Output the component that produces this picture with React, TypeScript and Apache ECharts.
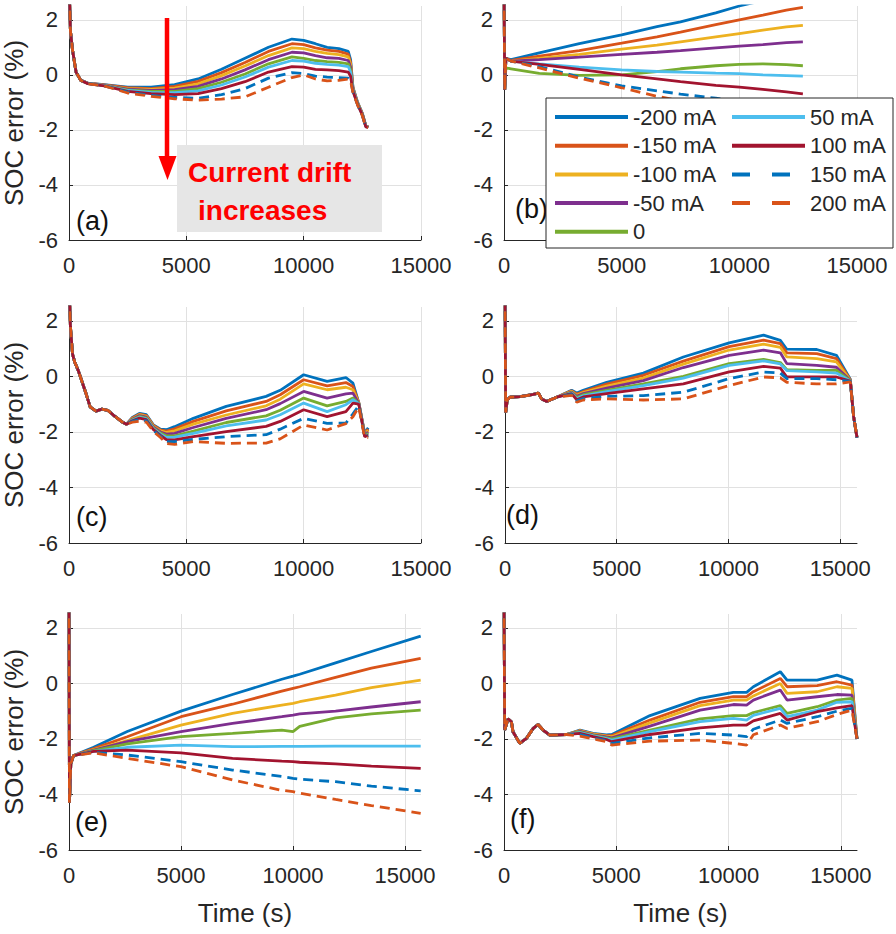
import React, { useEffect, useRef } from 'react';
import * as echarts from 'echarts';

const FONT = '"Liberation Sans", Arial, Helvetica, sans-serif';

const SERIES_NAMES = ['-200 mA', '-150 mA', '-100 mA', '-50 mA', '0', '50 mA', '100 mA', '150 mA', '200 mA'];
const SERIES_COLORS = ['#0072BD', '#D95319', '#EDB120', '#7E2F8E', '#77AC30', '#4DBEEE', '#A2142F', '#0072BD', '#D95319'];
const SERIES_DASHED = [false, false, false, false, false, false, false, true, true];

const PANEL_LABELS = ['(a)', '(b)', '(c)', '(d)', '(e)', '(f)'];
const X_MAX = [15000, 15000, 15000, 15750, 15714, 15714];
const Y_TICKS = [-6, -4, -2, 0, 2];
const X_TICKS = [0, 5000, 10000, 15000];

// ---------- Panel (a) ----------
const A_T = [0, 60, 150, 300, 500, 800, 1500, 2500, 3500, 4500, 5500, 6500, 7500, 8500, 9500, 10000, 10500, 11000, 11500, 11900, 12000, 12100, 12300, 12500, 12650, 12750];
const A_M200 = [3.5, 1.6, 0.9, 0.1, -0.2, -0.3, -0.36, -0.45, -0.45, -0.36, -0.15, 0.2, 0.6, 1.0, 1.3, 1.25, 1.13, 1.0, 0.95, 0.85, 0.55, -0.45, -1.0, -1.4, -1.85, -1.9];
const A_M150 = [3.5, 1.6, 0.9, 0.1, -0.2, -0.3, -0.37, -0.47, -0.5, -0.42, -0.24, 0.08, 0.45, 0.85, 1.13, 1.1, 0.98, 0.9, 0.85, 0.75, 0.45, -0.48, -1.02, -1.41, -1.86, -1.9];
const A_M100 = [3.5, 1.6, 0.9, 0.1, -0.2, -0.3, -0.38, -0.5, -0.53, -0.48, -0.33, -0.03, 0.32, 0.7, 0.98, 0.95, 0.85, 0.78, 0.73, 0.65, 0.38, -0.5, -1.03, -1.42, -1.86, -1.9];
const A_M50 = [3.5, 1.6, 0.9, 0.1, -0.2, -0.3, -0.38, -0.52, -0.57, -0.54, -0.42, -0.15, 0.18, 0.55, 0.82, 0.8, 0.7, 0.62, 0.6, 0.52, 0.28, -0.52, -1.05, -1.43, -1.87, -1.9];
const A_Z0 = [3.5, 1.6, 0.9, 0.1, -0.2, -0.31, -0.39, -0.55, -0.6, -0.6, -0.5, -0.27, 0.03, 0.4, 0.65, 0.6, 0.52, 0.48, 0.45, 0.4, 0.18, -0.55, -1.06, -1.44, -1.88, -1.9];
const A_P50 = [3.5, 1.6, 0.9, 0.1, -0.2, -0.31, -0.39, -0.57, -0.64, -0.65, -0.58, -0.37, -0.08, 0.28, 0.52, 0.5, 0.42, 0.38, 0.35, 0.3, 0.1, -0.57, -1.07, -1.45, -1.88, -1.91];
const A_P100 = [3.5, 1.6, 0.9, 0.1, -0.2, -0.32, -0.4, -0.6, -0.68, -0.72, -0.68, -0.5, -0.25, 0.1, 0.3, 0.28, 0.2, 0.18, 0.15, 0.1, -0.05, -0.6, -1.08, -1.46, -1.89, -1.91];
const A_P150 = [3.5, 1.6, 0.9, 0.1, -0.2, -0.32, -0.4, -0.63, -0.75, -0.82, -0.85, -0.72, -0.5, -0.12, 0.08, 0.05, -0.05, -0.08, -0.1, -0.12, -0.2, -0.62, -1.09, -1.47, -1.9, -1.92];
const A_P200 = [3.5, 1.6, 0.9, 0.1, -0.2, -0.33, -0.4, -0.66, -0.78, -0.87, -0.92, -0.88, -0.8, -0.45, -0.1, 0.0, -0.15, -0.22, -0.2, -0.15, -0.22, -0.64, -1.1, -1.48, -1.9, -1.92];

// ---------- Panel (b) ----------
const B_T = [0, 30, 80, 300, 1500, 3200, 5000, 6500, 7500, 9000, 10000, 11000, 12000, 12700];
const B_M200 = [3.5, -0.55, 0.6, 0.55, 0.8, 1.13, 1.45, 1.75, 1.92, 2.25, 2.5, 2.7, 2.9, 3.05];
const B_M150 = [3.5, -0.55, 0.6, 0.52, 0.68, 0.88, 1.15, 1.38, 1.55, 1.82, 2.0, 2.17, 2.35, 2.45];
const B_M100 = [3.5, -0.55, 0.6, 0.5, 0.6, 0.74, 0.93, 1.08, 1.2, 1.38, 1.5, 1.62, 1.74, 1.8];
const B_M50 = [3.5, -0.55, 0.6, 0.5, 0.55, 0.64, 0.74, 0.82, 0.88, 0.98, 1.04, 1.1, 1.17, 1.2];
const B_Z0 = [3.5, -0.55, 0.25, 0.22, 0.05, -0.02, 0.0, 0.12, 0.22, 0.33, 0.38, 0.4, 0.37, 0.33];
const B_P50 = [3.5, -0.55, 0.6, 0.5, 0.4, 0.28, 0.18, 0.12, 0.1, 0.06, 0.04, 0.0, -0.03, -0.05];
const B_P100 = [3.5, -0.55, 0.6, 0.5, 0.38, 0.2, 0.0, -0.15, -0.25, -0.38, -0.45, -0.53, -0.62, -0.69];
const B_P150 = [3.5, -0.55, 0.6, 0.5, 0.3, -0.08, -0.4, -0.58, -0.7, -0.85, -0.98, -1.1, -1.22, -1.3];
const B_P200 = [3.5, -0.55, 0.6, 0.5, 0.25, -0.12, -0.47, -0.78, -0.95, -1.2, -1.38, -1.55, -1.75, -1.88];

// ---------- Panel (c) ----------
const C_T = [0, 60, 150, 250, 400, 700, 900, 1150, 1400, 1650, 1900, 2250, 2450, 2700, 3000, 3300, 3600, 3900, 4150, 4500, 5300, 6700, 8400, 9000, 10000, 11000, 11800, 12100, 12350, 12600, 12750];
const C_M200 = [3.5, 1.8, 0.8, 0.5, 0.2, -0.55, -1.1, -1.25, -1.18, -1.22, -1.4, -1.63, -1.72, -1.48, -1.33, -1.38, -1.75, -1.9, -1.92, -1.81, -1.51, -1.08, -0.72, -0.5, 0.06, -0.18, -0.04, -0.24, -0.95, -2.05, -1.85];
const C_M150 = [3.5, 1.8, 0.8, 0.5, 0.2, -0.55, -1.1, -1.25, -1.18, -1.22, -1.4, -1.63, -1.72, -1.5, -1.36, -1.41, -1.77, -1.93, -1.97, -1.89, -1.62, -1.24, -0.9, -0.66, -0.12, -0.34, -0.22, -0.36, -0.95, -2.07, -1.9];
const C_M100 = [3.5, 1.8, 0.8, 0.5, 0.2, -0.55, -1.1, -1.25, -1.18, -1.22, -1.4, -1.63, -1.72, -1.52, -1.38, -1.44, -1.8, -1.96, -2.02, -1.96, -1.72, -1.39, -1.06, -0.82, -0.27, -0.48, -0.39, -0.48, -0.96, -2.09, -1.95];
const C_M50 = [3.5, 1.8, 0.8, 0.5, 0.2, -0.55, -1.1, -1.25, -1.18, -1.22, -1.4, -1.63, -1.72, -1.54, -1.41, -1.47, -1.83, -2.0, -2.08, -2.05, -1.84, -1.51, -1.2, -0.98, -0.54, -0.78, -0.63, -0.6, -0.97, -2.11, -2.0];
const C_Z0 = [3.5, 1.8, 0.8, 0.5, 0.2, -0.55, -1.1, -1.25, -1.18, -1.22, -1.4, -1.63, -1.72, -1.56, -1.44, -1.5, -1.86, -2.04, -2.14, -2.14, -1.97, -1.66, -1.42, -1.22, -0.78, -1.06, -0.9, -0.78, -0.98, -2.13, -2.05];
const C_P50 = [3.5, 1.8, 0.8, 0.5, 0.2, -0.55, -1.1, -1.25, -1.18, -1.22, -1.4, -1.63, -1.72, -1.58, -1.47, -1.53, -1.89, -2.08, -2.2, -2.19, -2.05, -1.78, -1.57, -1.38, -0.96, -1.27, -1.02, -0.84, -0.98, -2.15, -2.1];
const C_P100 = [3.5, 1.8, 0.8, 0.5, 0.2, -0.55, -1.1, -1.25, -1.18, -1.22, -1.4, -1.63, -1.72, -1.6, -1.5, -1.56, -1.92, -2.12, -2.28, -2.29, -2.17, -1.99, -1.8, -1.62, -1.2, -1.45, -1.27, -0.96, -1.0, -2.17, -2.12];
const C_P150 = [3.5, 1.8, 0.8, 0.5, 0.2, -0.55, -1.1, -1.25, -1.18, -1.22, -1.4, -1.63, -1.72, -1.62, -1.55, -1.6, -1.95, -2.16, -2.35, -2.35, -2.27, -2.17, -2.1, -1.9, -1.51, -1.69, -1.68, -1.35, -1.05, -2.18, -2.15];
const C_P200 = [3.5, 1.8, 0.8, 0.5, 0.2, -0.55, -1.1, -1.25, -1.18, -1.22, -1.4, -1.63, -1.72, -1.65, -1.62, -1.65, -1.98, -2.2, -2.42, -2.45, -2.35, -2.41, -2.4, -2.25, -1.75, -1.93, -1.7, -1.45, -1.1, -2.2, -2.2];

// ---------- Panel (d) ----------
const D_T = [0, 30, 100, 224, 670, 1270, 1490, 1640, 1870, 2310, 2980, 3210, 3500, 4550, 6190, 7980, 10030, 11570, 12320, 12610, 13950, 14830, 15450, 15600, 15750];
const D_M200 = [3.5, -1.3, -0.85, -0.75, -0.73, -0.65, -0.6, -0.81, -0.9, -0.75, -0.5, -0.6, -0.5, -0.21, 0.12, 0.7, 1.21, 1.49, 1.3, 0.98, 0.97, 0.76, -0.1, -1.45, -2.2];
const D_M150 = [3.5, -1.3, -0.85, -0.75, -0.73, -0.65, -0.6, -0.81, -0.9, -0.75, -0.52, -0.64, -0.55, -0.28, 0.04, 0.55, 1.07, 1.31, 1.18, 0.85, 0.82, 0.64, -0.12, -1.45, -2.2];
const D_M100 = [3.5, -1.3, -0.85, -0.75, -0.73, -0.65, -0.6, -0.81, -0.9, -0.75, -0.54, -0.68, -0.58, -0.35, -0.06, 0.44, 0.95, 1.16, 1.05, 0.7, 0.64, 0.52, -0.13, -1.45, -2.2];
const D_M50 = [3.5, -1.3, -0.85, -0.75, -0.73, -0.65, -0.6, -0.81, -0.9, -0.75, -0.56, -0.72, -0.62, -0.42, -0.15, 0.32, 0.76, 0.95, 0.85, 0.46, 0.4, 0.33, -0.14, -1.45, -2.2];
const D_Z0 = [3.5, -1.3, -0.85, -0.75, -0.73, -0.65, -0.6, -0.81, -0.9, -0.75, -0.58, -0.76, -0.66, -0.5, -0.27, 0.0, 0.46, 0.61, 0.5, 0.24, 0.22, 0.22, -0.15, -1.45, -2.2];
const D_P50 = [3.5, -1.3, -0.85, -0.75, -0.73, -0.65, -0.6, -0.81, -0.9, -0.75, -0.6, -0.8, -0.7, -0.55, -0.33, -0.06, 0.4, 0.56, 0.45, 0.21, 0.16, 0.12, -0.16, -1.45, -2.2];
const D_P100 = [3.5, -1.3, -0.85, -0.75, -0.73, -0.65, -0.6, -0.81, -0.9, -0.75, -0.62, -0.84, -0.74, -0.62, -0.45, -0.27, 0.16, 0.36, 0.3, -0.02, -0.02, -0.02, -0.17, -1.45, -2.2];
const D_P150 = [3.5, -1.3, -0.85, -0.75, -0.73, -0.65, -0.6, -0.81, -0.9, -0.75, -0.65, -0.88, -0.8, -0.72, -0.69, -0.57, -0.08, 0.16, 0.12, -0.08, -0.08, -0.12, -0.18, -1.45, -2.2];
const D_P200 = [3.5, -1.3, -0.85, -0.75, -0.73, -0.65, -0.6, -0.81, -0.9, -0.75, -0.68, -0.93, -0.85, -0.81, -0.85, -0.81, -0.33, -0.02, -0.05, -0.21, -0.27, -0.27, -0.2, -1.45, -2.2];

// ---------- Panel (e) ----------
const E_T = [0, 20, 80, 200, 1100, 2600, 5000, 7300, 9500, 10000, 10300, 11900, 13500, 15700];
const E_M200 = [3.5, -4.3, -2.9, -2.6, -2.3, -1.73, -1.0, -0.4, 0.15, 0.26, 0.33, 0.74, 1.15, 1.7];
const E_M150 = [3.5, -4.3, -2.9, -2.6, -2.35, -1.92, -1.2, -0.75, -0.28, -0.18, -0.12, 0.22, 0.55, 0.9];
const E_M100 = [3.5, -4.3, -2.9, -2.6, -2.38, -2.06, -1.5, -1.08, -0.78, -0.72, -0.66, -0.42, -0.15, 0.12];
const E_M50 = [3.5, -4.3, -2.9, -2.6, -2.4, -2.1, -1.74, -1.44, -1.2, -1.14, -1.1, -1.0, -0.85, -0.66];
const E_Z0 = [3.5, -4.3, -2.9, -2.6, -2.42, -2.18, -1.92, -1.8, -1.68, -1.74, -1.55, -1.24, -1.1, -0.96];
const E_P50 = [3.5, -4.3, -2.9, -2.6, -2.45, -2.3, -2.22, -2.28, -2.27, -2.27, -2.27, -2.26, -2.26, -2.26];
const E_P100 = [3.5, -4.3, -2.9, -2.6, -2.45, -2.4, -2.5, -2.7, -2.8, -2.82, -2.84, -2.9, -2.98, -3.06];
const E_P150 = [3.5, -4.3, -2.9, -2.6, -2.48, -2.58, -2.82, -3.12, -3.35, -3.42, -3.45, -3.54, -3.7, -3.87];
const E_P200 = [3.5, -4.3, -2.9, -2.6, -2.5, -2.7, -3.0, -3.48, -3.85, -3.9, -3.95, -4.18, -4.4, -4.68];

// ---------- Panel (f) ----------
const F_T = [0, 30, 180, 330, 400, 700, 1000, 1300, 1515, 1740, 2040, 2780, 3380, 3970, 4560, 4800, 6500, 8730, 10210, 10800, 11100, 12300, 12600, 13940, 14820, 15490, 15714];
const F_M200 = [3.5, -1.68, -1.28, -1.38, -1.74, -2.16, -1.98, -1.62, -1.48, -1.68, -1.86, -1.84, -1.68, -1.8, -1.85, -1.84, -1.16, -0.54, -0.32, -0.32, -0.12, 0.42, 0.12, 0.12, 0.3, 0.12, -2.0];
const F_M150 = [3.5, -1.68, -1.28, -1.38, -1.74, -2.16, -1.98, -1.62, -1.48, -1.68, -1.86, -1.84, -1.7, -1.82, -1.88, -1.88, -1.32, -0.68, -0.48, -0.48, -0.3, 0.18, -0.12, -0.08, 0.06, -0.06, -2.0];
const F_M100 = [3.5, -1.68, -1.28, -1.38, -1.74, -2.16, -1.98, -1.62, -1.48, -1.68, -1.86, -1.84, -1.71, -1.83, -1.9, -1.92, -1.42, -0.8, -0.6, -0.6, -0.45, 0.0, -0.36, -0.3, -0.12, -0.18, -2.0];
const F_M50 = [3.5, -1.68, -1.28, -1.38, -1.74, -2.16, -1.98, -1.62, -1.48, -1.68, -1.86, -1.84, -1.73, -1.85, -1.93, -1.96, -1.54, -0.96, -0.76, -0.78, -0.6, -0.24, -0.6, -0.48, -0.4, -0.42, -2.0];
const F_Z0 = [3.5, -1.68, -1.28, -1.38, -1.74, -2.16, -1.98, -1.62, -1.48, -1.68, -1.86, -1.84, -1.75, -1.87, -1.96, -2.0, -1.68, -1.28, -1.16, -1.16, -1.05, -0.8, -1.08, -0.84, -0.6, -0.54, -2.0];
const F_P50 = [3.5, -1.68, -1.28, -1.38, -1.74, -2.16, -1.98, -1.62, -1.48, -1.68, -1.86, -1.84, -1.77, -1.89, -1.99, -2.04, -1.74, -1.38, -1.26, -1.32, -1.15, -0.9, -1.2, -0.96, -0.68, -0.66, -2.0];
const F_P100 = [3.5, -1.68, -1.28, -1.38, -1.74, -2.16, -1.98, -1.62, -1.48, -1.68, -1.86, -1.84, -1.8, -1.92, -2.02, -2.1, -1.84, -1.6, -1.5, -1.5, -1.35, -1.08, -1.32, -1.02, -0.88, -0.8, -2.0];
const F_P150 = [3.5, -1.68, -1.28, -1.38, -1.74, -2.16, -1.98, -1.62, -1.48, -1.68, -1.86, -1.84, -1.84, -1.96, -2.06, -2.16, -1.96, -1.8, -1.86, -1.92, -1.65, -1.32, -1.44, -1.2, -1.0, -0.9, -2.0];
const F_P200 = [3.5, -1.68, -1.28, -1.38, -1.74, -2.16, -1.98, -1.62, -1.48, -1.68, -1.86, -1.84, -1.9, -2.0, -2.1, -2.22, -2.08, -2.04, -2.16, -2.22, -1.85, -1.5, -1.62, -1.38, -1.12, -0.96, -2.0];

const PANELS = [
  { t: A_T, vals: [A_M200, A_M150, A_M100, A_M50, A_Z0, A_P50, A_P100, A_P150, A_P200] },
  { t: B_T, vals: [B_M200, B_M150, B_M100, B_M50, B_Z0, B_P50, B_P100, B_P150, B_P200] },
  { t: C_T, vals: [C_M200, C_M150, C_M100, C_M50, C_Z0, C_P50, C_P100, C_P150, C_P200] },
  { t: D_T, vals: [D_M200, D_M150, D_M100, D_M50, D_Z0, D_P50, D_P100, D_P150, D_P200] },
  { t: E_T, vals: [E_M200, E_M150, E_M100, E_M50, E_Z0, E_P50, E_P100, E_P150, E_P200] },
  { t: F_T, vals: [F_M200, F_M150, F_M100, F_M50, F_Z0, F_P50, F_P100, F_P150, F_P200] },
];

// layout (pixels)
const GRIDS = [
  { left: 69, top: 6, width: 352, height: 234 },
  { left: 504, top: 6, width: 353, height: 234 },
  { left: 69, top: 307, width: 352, height: 236 },
  { left: 505, top: 307, width: 352, height: 236 },
  { left: 69, top: 614, width: 352, height: 236 },
  { left: 504, top: 614, width: 353, height: 236 },
];
const LABEL_POS = [
  [76, 221], [515, 209], [76, 517], [506, 515], [75, 822], [510, 819],
];

const AXIS_COLOR = '#262626';
const GRID_COLOR = '#e1e1e1';

export default function App() {
  const ref = useRef<HTMLDivElement>(null);

  useEffect(() => {
    document.body.style.margin = '0';
    if (!ref.current) return;
    const chart = echarts.init(ref.current, undefined, { renderer: 'svg' });

    const xAxis = GRIDS.map((_, i) => {
      const exact = X_MAX[i] === X_TICKS[X_TICKS.length - 1];
      return {
        type: 'value',
        gridIndex: i,
        min: 0,
        max: X_MAX[i],
        interval: 5000,
        axisLine: { show: true, onZero: false, lineStyle: { color: AXIS_COLOR, width: 1 } },
        axisTick: { show: true, inside: true, length: 4, lineStyle: { color: AXIS_COLOR } },
        axisLabel: {
          fontSize: 22, color: AXIS_COLOR, fontFamily: FONT, margin: 14,
          showMaxLabel: exact, showMinLabel: true,
          formatter: (v: number) => String(v),
        },
        splitLine: { show: true, showMinLine: false, showMaxLine: exact, lineStyle: { color: GRID_COLOR, width: 1 } },
        name: i >= 4 ? 'Time (s)' : '',
        nameLocation: 'middle',
        nameGap: 50,
        nameTextStyle: { fontSize: 26, color: AXIS_COLOR, fontFamily: FONT },
      };
    });

    const yAxis = GRIDS.map((_, i) => ({
      type: 'value',
      gridIndex: i,
      min: Y_TICKS[0],
      max: 2.5,
      interval: 2,
      axisLine: { show: true, onZero: false, lineStyle: { color: AXIS_COLOR, width: 1 } },
      axisTick: { show: true, inside: true, length: 4, lineStyle: { color: AXIS_COLOR } },
      axisLabel: {
        fontSize: 22, color: AXIS_COLOR, fontFamily: FONT, margin: 11,
        showMaxLabel: false, showMinLabel: true,
        formatter: (v: number) => String(v),
      },
      splitLine: { show: true, showMinLine: false, showMaxLine: false, lineStyle: { color: GRID_COLOR, width: 1 } },
      name: i % 2 === 0 ? 'SOC error (%)' : '',
      nameLocation: 'middle',
      nameGap: 42,
      nameTextStyle: { fontSize: 26, color: AXIS_COLOR, fontFamily: FONT },
    }));

    const series: any[] = [];
    PANELS.forEach((p, i) => {
      p.vals.forEach((v, k) => {
        series.push({
          type: 'line',
          name: SERIES_NAMES[k],
          xAxisIndex: i,
          yAxisIndex: i,
          data: p.t.map((t, j) => [t, v[j]]),
          symbol: 'none',
          showSymbol: false,
          clip: true,
          silent: true,
          z: 2,
          itemStyle: { color: SERIES_COLORS[k] },
          lineStyle: {
            color: SERIES_COLORS[k],
            width: 2.8,
            type: SERIES_DASHED[k] ? [10, 6] : 'solid',
          },
        });
      });
    });

    const legendItem = (name: string) => {
      const k = SERIES_NAMES.indexOf(name);
      return SERIES_DASHED[k]
        ? { name, lineStyle: { type: [18, 22], width: 4 } }
        : { name };
    };

    const legendBase = {
      orient: 'vertical',
      top: 106,
      itemWidth: 73,
      itemHeight: 14,
      itemGap: 6.7,
      padding: 0,
      selectedMode: false,
      z: 5,
      textStyle: { fontSize: 22, color: AXIS_COLOR, fontFamily: FONT },
      lineStyle: { width: 4 },
      itemStyle: { opacity: 0 },
    };

    const graphics: any[] = [
      { type: 'rect', z: 4, shape: { x: 546, y: 98, width: 347, height: 150 }, style: { fill: '#ffffff', stroke: AXIS_COLOR, lineWidth: 1 } },
      { type: 'rect', z: 4, shape: { x: 177, y: 145, width: 205, height: 87 }, style: { fill: '#e6e6e6' } },
      { type: 'text', z: 5, x: 188, y: 172, style: { text: 'Current drift', fill: '#ff0000', fontSize: 28, fontWeight: 'bold', fontFamily: FONT, verticalAlign: 'middle', align: 'left' } },
      { type: 'text', z: 5, x: 198, y: 210, style: { text: 'increases', fill: '#ff0000', fontSize: 28, fontWeight: 'bold', fontFamily: FONT, verticalAlign: 'middle', align: 'left' } },
      { type: 'line', z: 5, shape: { x1: 167, y1: 18, x2: 167, y2: 160 }, style: { stroke: '#ff0000', lineWidth: 4.5 } },
      { type: 'polygon', z: 5, shape: { points: [[158.5, 156], [176.5, 156], [167.5, 180]] }, style: { fill: '#ff0000' } },
    ];
    PANEL_LABELS.forEach((lab, i) => {
      graphics.push({
        type: 'text',
        z: 1,
        x: LABEL_POS[i][0],
        y: LABEL_POS[i][1],
        style: { text: lab, fill: '#111111', fontSize: 27, fontFamily: FONT, verticalAlign: 'middle', align: 'left' },
      });
    });

    chart.setOption({
      animation: false,
      backgroundColor: '#ffffff',
      textStyle: { fontFamily: FONT },
      grid: GRIDS.map((g) => ({ ...g, containLabel: false })),
      xAxis,
      yAxis,
      legend: [
        { ...legendBase, left: 553, data: SERIES_NAMES.slice(0, 5).map(legendItem) },
        { ...legendBase, left: 730, data: SERIES_NAMES.slice(5).map(legendItem) },
      ],
      graphic: { elements: graphics },
      series,
    });

    return () => chart.dispose();
  }, []);

  return <div ref={ref} style={{ width: 896, height: 934 }} />;
}
